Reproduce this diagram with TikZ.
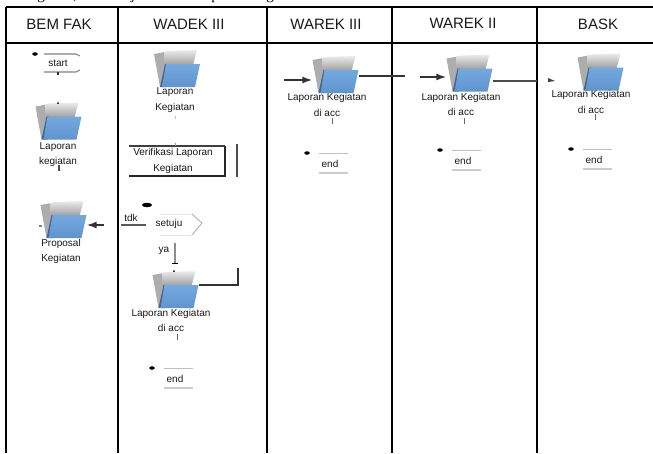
\documentclass[tikz,border=0pt]{standalone}
\usepackage{fontspec}
\setmainfont{Liberation Sans}
\newfontfamily\serifcut{Liberation Serif}
\usetikzlibrary{arrows.meta,calc,shapes.geometric}
\definecolor{pane}{HTML}{74A8E0}
\definecolor{paneD}{HTML}{5F94CC}
\definecolor{edgeG}{HTML}{333333}
\tikzset{
  x=1pt,y=-1pt,
  rule/.style={line width=2pt,black},
  head/.style={font=\fontsize{15}{15}\selectfont,inner sep=0pt,text=black!90},
  small/.style={font=\fontsize{10}{15.5}\selectfont,inner sep=0pt,align=center,text=black!90},
  conn/.style={line width=1.5pt,edgeG},
  tick/.style={line width=1pt,black!60},
  faint/.style={line width=1pt,black!22},
  mid/.style={line width=1.1pt,black!50},
  tipp/.style={-{Latex[length=10pt,width=7pt]},line width=1.5pt,edgeG},
  blobb/.style={fill=black,inner sep=0pt,minimum width=5.5pt,minimum height=3.5pt,ellipse},
  fold/.style={minimum width=46pt,minimum height=37pt,inner sep=0pt},
}
\newcommand{\foldr}[3]{%
  \node[fold] (#1) at (#2,#3) {};
  \begin{scope}[shift={(#2,#3)}]
    \fill[black!32] (-23,-15) -- (-12,-17) -- (-11,14) -- (-17,18) -- cycle;
    \shade[top color=black!8,bottom color=black!38] (-13,-17) -- (-9,-18) -- (20,-19) -- (16,-4) -- (-13,-4) -- cycle;
    \fill[black!30!paneD] (-17,18) -- (-12,-5) -- (-9,-5) -- (-11,18) -- cycle;
    \shade[top color=pane,bottom color=paneD] (-11,-5) -- (23,-5) -- (18,18) -- (-15,18) -- cycle;
  \end{scope}}
\begin{document}
\begin{tikzpicture}
\useasboundingbox (0,0) rectangle (653,453);
\fill[white] (0,0) rectangle (653,453);
% clipped line of running text above the table
\begin{scope}
  \clip (0,0) rectangle (653,4);
  \foreach \cx/\ch/\nm in {41/g/ta,75/{,}/tb,133/j/tc,215/p/td,270/g/te}
    \node[font=\serifcut\fontsize{15}{15}\selectfont,inner sep=0pt,anchor=base] (\nm) at (\cx,-1) {\ch};
\end{scope}
% table rules
\coordinate (tl) at (6,6.5); \coordinate (tr) at (653,6.5);
\coordinate (hl) at (6,43); \coordinate (hr) at (653,43);
\coordinate (bl) at (6,453);
\draw[rule] (tl) -- (tr);
\draw[rule] (hl) -- (hr);
\draw[rule] (tl) -- (bl);
\foreach \vx in {118,267,392,537} \draw[rule] (\vx,6.5) -- (\vx,453);
% headers
\node[head] (h1) at (59,24) {BEM FAK};
\node[head] (h2) at (189,24) {WADEK III};
\node[head] (h3) at (326,24) {WAREK III};
\node[head] (h4) at (463,23) {WAREK II};
\node[head] (h5) at (598,24) {BASK};
% folders
\foldr{f1}{58.5}{121.5}
\foldr{f2}{63.5}{220}
\foldr{f3}{177}{69}
\foldr{f4}{175.5}{290}
\foldr{f5}{335.5}{75}
\foldr{f6}{469.5}{73.5}
\foldr{f7}{600.5}{72.5}
% folder labels
\node[small] (l1) at (58,154.5) {Laporan\\kegiatan};
\node[small] (l2) at (61,251.5) {Proposal\\Kegiatan};
\node[small] (l3) at (175,100) {Laporan\\Kegiatan};
\node[small] (l4) at (171,320.5) {Laporan Kegiatan\\di acc};
\node[small] (l5) at (327,105) {Laporan Kegiatan\\di acc};
\node[small] (l6) at (461,104.5) {Laporan Kegiatan\\di acc};
\node[small] (l7) at (591,102) {Laporan Kegiatan\\di acc};
% start
\node[small] (st) at (58,63) {start};
\draw[mid] (44,54) -- (76,54) -- (80,56);
\draw[mid] (44,72) -- (76,72) -- (80,70);
\node[blobb] (sd) at (35,54) {};
\coordinate (s1) at (58,72); \coordinate (s2) at (58,75);
\draw[conn] (s1) -- (s2);
\fill[black] (58,103) circle (1pt);
\coordinate (k1) at (59,165); \coordinate (k2) at (59,171);
\draw[line width=1.8pt,black!70] (k1) -- (k2);
% proposal arrow
\coordinate (pa) at (104,225);
\draw[tipp] (pa) -- (f2.east |- pa);
\draw[mid] (39,226) -- (42,226);
% verification box
\node[small] (ver) at (173,161) {Verifikasi Laporan\\Kegiatan};
\coordinate (v1) at (129,146); \coordinate (v2) at (225,146);
\coordinate (v3) at (225,176); \coordinate (v4) at (129,176);
\draw[line width=1.2pt,black!75] (v1) -- (v2);
\draw[line width=1.5pt,black!85] (v2) -- (v3) -- (v4);
\coordinate (w1) at (237,144); \coordinate (w2) at (237,177);
\draw[line width=1.8pt,black!70] (w1) -- (w2);
\draw[tick,black!25] (175,116) -- (175,119);
\draw[tick,black!40] (175,143) -- (175,146);
% decision
\node[small] (dec) at (169,224) {setuju};
\draw[line width=1pt,black!28] (192,214) -- (202,223) -- (192,235);
\draw[faint,black!10] (160,214) -- (192,214);
\draw[faint,black!10] (160,235) -- (192,235);
\node[blobb,minimum width=10pt,minimum height=4.5pt] (db) at (147,205) {};
\node[small] (tdk) at (131,218) {tdk};
\coordinate (t1) at (146,225); \coordinate (t2) at (121,225);
\draw[conn,black!65] (t1) -- (t2);
\node[small] (ya) at (164,251) {ya};
\coordinate (y1) at (175,243); \coordinate (y2) at (175,263);
\draw[line width=1.6pt,black!45] (y1) -- (y2);
\draw[line width=1.2pt,black] (172,263.5) -- (178,263.5);
\fill[black] (174,271) circle (1pt);
% approved folder link
\coordinate (a1) at (238,268);
\draw[line width=1.5pt,edgeG] (f4.east |- 0,285) -- (238,285) -- (a1);
\draw[tick] (177,334) -- (177,340);
% across the lanes
\coordinate (b1) at (284,80);
\draw[tipp] (b1) -- (f5.west |- b1);
\coordinate (b2) at (405,76);
\draw[conn] (f5.east |- b2) -- (b2);
\coordinate (c1) at (420,77);
\draw[tipp] (c1) -- (f6.west |- c1);
\coordinate (c2) at (537,81);
\draw[conn,black!70] (f6.east |- c2) -- (c2);
\fill[black!75] (548,78) -- (555,81) -- (548,82) -- cycle;
\draw[tick] (332,118) -- (332,124);
\draw[tick] (464,118) -- (464,124);
\draw[tick] (595,114) -- (595,120);
% end markers
\foreach \nm/\ex/\ey in {e1/164/368,e2/319/153,e3/452/150,e4/583/149}{
  \draw[line width=1pt,black!25] (\ex,\ey) -- ++(29,0);
  \draw[line width=1.4pt,black!20] (\ex,\ey+20) -- ++(29,0);
  \node[small] (\nm) at (\ex+11,\ey+10.5) {end};
  \node[blobb] (\nm d) at (\ex-12,\ey) {};
}
\end{tikzpicture}
\end{document}
